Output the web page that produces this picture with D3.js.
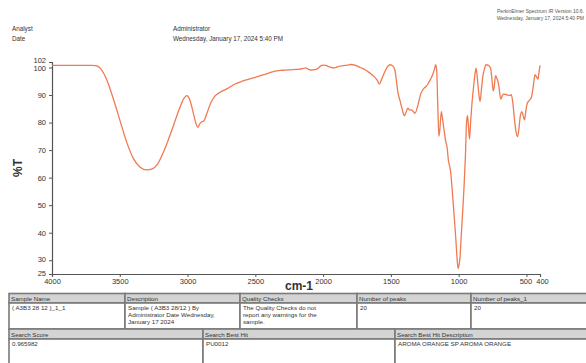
<!DOCTYPE html>
<html><head><meta charset="utf-8">
<script src="https://cdn.jsdelivr.net/npm/d3@7"></script>
<style>body{margin:0;background:#fff}svg{display:block;font-family:"Liberation Sans",Arial,sans-serif}</style>
</head><body><svg id="c" width="586" height="363"></svg>
<script>
const wavenumbers = [4000,3800,3700,3670,3640,3600,3550,3500,3450,3400,3350,3300,3260,3220,3180,3140,3100,3060,3030,3005,2985,2960,2940,2925,2910,2895,2880,2860,2830,2800,2760,2700,2650,2600,2550,2500,2450,2400,2363,2300,2200,2150,2130,2110,2090,2060,2040,2010,1990,1968,1940,1915,1890,1860,1820,1796,1760,1722,1690,1672,1650,1624,1600,1586,1570,1549,1525,1505,1485,1470,1460,1450,1430,1415,1402,1390,1375,1362,1350,1335,1322,1300,1278,1255,1241,1225,1210,1192,1178,1170,1162,1155,1146,1138,1128,1118,1108,1095,1086,1075,1068,1060,1050,1040,1030,1020,1010,1004,998,990,982,970,960,950,942,935,928,920,912,900,890,880,871,862,850,842,832,822,810,797,780,765,755,745,738,728,718,708,700,690,680,670,650,630,612,600,590,578,565,555,545,533,522,514,505,494,480,465,450,437,425,415,408,400];
const transmittance = [100.8,100.8,100.8,100.6,99.5,96,89,81,73,67,63.8,62.8,63.2,65,69,74,79.5,85,88.5,89.8,88.5,84,80,78.3,79.5,80.3,80.6,83,87,89.5,91,92.5,94,95,95.7,96.4,97.2,98,98.6,99,99.3,99.6,99.9,99.4,99.1,99.2,99.6,100.8,100.9,100.5,100,99.9,100.3,100.6,100.9,101.1,100.8,99.9,99.2,98.6,97.8,96.7,95.3,94,95.5,98,100.3,101,100.5,99,95.5,91.5,87.5,84.5,82.5,83.5,85.2,84.6,84.6,84,83.4,86.5,90.7,92.5,93.1,94.2,95.5,97.4,99.5,101,99,88,75,78,84,81,77.4,73,71.3,66,64.5,62.5,57,50.5,44,37,29.5,27,28,31,38,48,57,68,80,82.5,79,74,80,88,93,97.5,99.8,96,90,87.7,92,96.7,99.5,101,100.8,99.8,96,91.5,93,97,96,94.5,92,88.5,89.5,90.3,90.2,89.8,90.1,87,82,77,74.9,78,82.5,84,82,81,84,87,88,88.9,93,97.4,96.5,95.8,98,100.8];
const xTicks = [4000,3500,3000,2500,2000,1500,1000,500,400];
const yTicks = [25,30,40,50,60,70,80,90,100,102];

const headerLeft = [["Analyst","Administrator"],["Date","Wednesday, January 17, 2024 5:40 PM"]];
const headerRight = ["PerkinElmer Spectrum IR Version 10.6.","Wednesday, January 17, 2024 5:40 PM"];
const table1Heads = ["Sample Name","Description","Quality Checks","Number of peaks","Number of peaks_1"];
const table1Row = [["( A3B3 28 12 )_1_1"],["Sample ( A3B3 28/12 ) By","Administrator Date Wednesday,","January 17 2024"],["The Quality Checks do not","report any warnings for the","sample."],["20"],["20"]];
const table2Heads = ["Search Score","Search Best Hit","Search Best Hit Description"];
const table2Row = ["0.965982","PU0012","AROMA ORANGE SP AROMA ORANGE"];

const svg = d3.select("#c");
const x = d3.scaleLinear().domain([4000,400]).range([52,540]);
const y = d3.scaleLinear().domain([25,102]).range([274,62]);

// header
headerLeft.forEach((r,i)=>{
  svg.append("text").attr("x",12).attr("y",31+i*9.5).attr("font-size",6.3).attr("fill","#333").text(r[0]);
  svg.append("text").attr("x",173).attr("y",31+i*9.5).attr("font-size",6.3).attr("fill","#333").text(r[1]);
});
headerRight.forEach((t,i)=>{
  svg.append("text").attr("x",584).attr("y",13+i*6.5).attr("text-anchor","end").attr("font-size",5).attr("fill","#555").text(t);
});

// axes
const gx = svg.append("g").attr("transform","translate(0,274)")
  .call(d3.axisBottom(x).tickValues(xTicks).tickSize(3).tickFormat(d3.format("d")));
const gy = svg.append("g").attr("transform","translate(52,0)")
  .call(d3.axisLeft(y).tickValues(yTicks).tickSize(3).tickFormat(d3.format("d")));
[gx,gy].forEach(g=>{
  g.select(".domain").attr("stroke","#555").attr("stroke-width",1.2);
  g.selectAll(".tick line").attr("stroke","#555");
  g.selectAll("text").attr("font-size",7.5).attr("fill","#333").attr("font-family","Liberation Sans, Arial, sans-serif");
});
gx.selectAll(".tick text").attr("dy","0.55em");
gx.selectAll(".tick").filter(d=>d===500).select("text").attr("dx",-1);
gx.selectAll(".tick").filter(d=>d===400).select("text").attr("dx",2);
gy.selectAll(".tick").filter(d=>d===102).select("text").attr("dy","0.1em");
gy.selectAll(".tick").filter(d=>d===25).select("text").attr("dy","0.15em");
gy.selectAll(".tick").filter(d=>d===100).select("text").attr("dy","0.45em");
gy.selectAll(".tick").filter(d=>d===30).select("text").attr("dy","0.2em");

svg.append("text").attr("transform","translate(22,168) rotate(-90)").attr("text-anchor","middle")
  .attr("font-size",12).attr("font-weight","bold").attr("fill","#333").text("%T");
svg.append("text").attr("x",299).attr("y",290).attr("text-anchor","middle")
  .attr("font-size",12).attr("font-weight","bold").attr("fill","#333").text("cm-1");

// spectrum
const pts = wavenumbers.map((w,i)=>[w,transmittance[i]]);
svg.append("path").datum(pts)
  .attr("fill","none").attr("stroke","#f07a52").attr("stroke-width",1.3)
  .attr("d",d3.line().x(d=>x(d[0])).y(d=>y(d[1])).curve(d3.curveMonotoneX));

// tables
function cell(x0,y0,w,h,fill){
  svg.append("rect").attr("x",x0).attr("y",y0).attr("width",w).attr("height",h)
    .attr("fill",fill).attr("stroke","#7a7a7a").attr("stroke-width",1.6);
}
function txt(x0,y0,s){ svg.append("text").attr("x",x0).attr("y",y0).attr("font-size",6.2).attr("fill","#333").text(s); }
const c1 = [9,125,240,357,471,600];
table1Heads.forEach((h,i)=>{
  cell(c1[i],293.5,c1[i+1]-c1[i],9.5,"#d4d4d4");
  txt(c1[i]+2,300.5,h);
  cell(c1[i],303,c1[i+1]-c1[i],26,"#fff");
  table1Row[i].forEach((s,j)=>txt(c1[i]+3,310+j*7,s));
});
const c2 = [9,203,395,600];
table2Heads.forEach((h,i)=>{
  cell(c2[i],329,c2[i+1]-c2[i],10,"#d4d4d4");
  txt(c2[i]+2,336.5,h);
  cell(c2[i],339,c2[i+1]-c2[i],30,"#fff");
  txt(c2[i]+3,346,table2Row[i]);
});
</script></body></html>
